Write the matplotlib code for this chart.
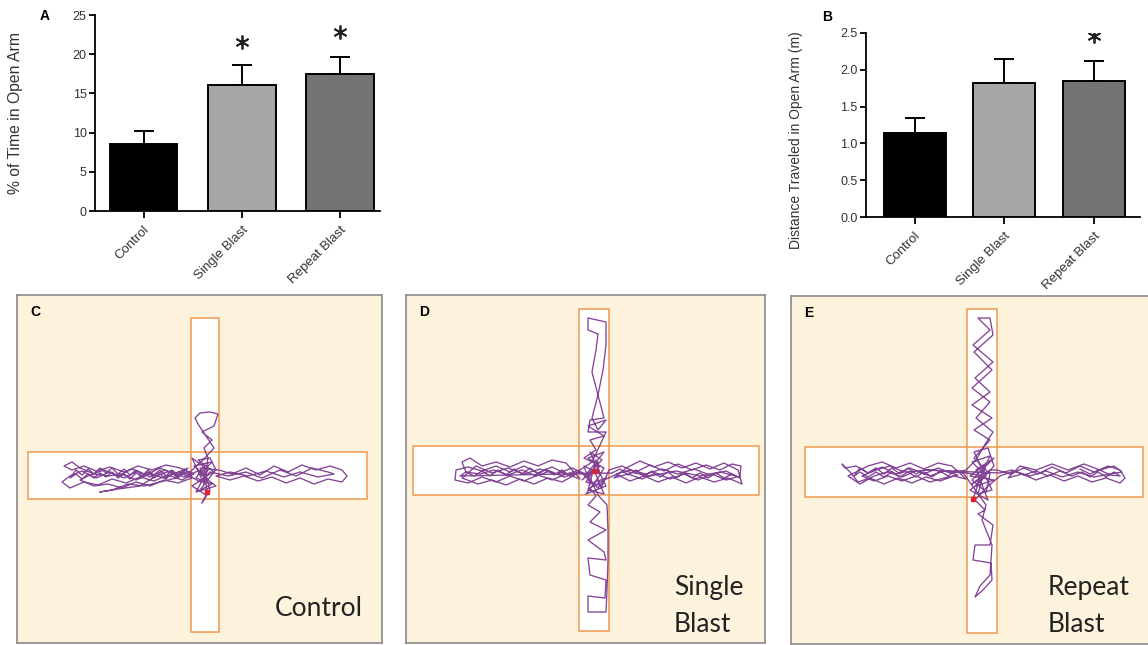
import matplotlib
matplotlib.use("Agg")
import matplotlib.pyplot as plt
from matplotlib.patches import Rectangle

# ---------------- data ----------------
groups = ["Control", "Single Blast", "Repeat Blast"]
time_open_mean = [8.6, 16.1, 17.5]
time_open_err = [1.6, 2.5, 2.2]
time_open_star = [None, 21.6, 22.8]
time_yticks = [0, 5, 10, 15, 20, 25]

dist_open_mean = [1.14, 1.82, 1.84]
dist_open_err = [0.20, 0.32, 0.27]
dist_open_star = [None, None, 2.45]
dist_yticks = [0.0, 0.5, 1.0, 1.5, 2.0, 2.5]

bar_colors = ["#000000", "#a6a6a6", "#737373"]

# maze geometry per panel (image pixel coordinates): (x0, y0, x1, y1)
maze_C_vert = (191, 318, 219, 632)
maze_C_horz = (28, 452, 367, 499)
maze_D_vert = (579, 309, 609, 631)
maze_D_horz = (413, 446, 759, 495)
maze_E_vert = (967, 309, 997, 633)
maze_E_horz = (805, 447, 1143, 497)

# animal tracks (image pixel coordinates)
track_C = [
    (207, 492), (204, 466), (196, 478), (212, 484), (200, 490), (214, 472), (198, 460), (210, 458), (216, 470),
    (192, 486), (206, 495), (202, 503), (210, 490), (206, 476), (194, 466), (212, 462), (200, 474), (216, 486),
    (196, 492), (208, 470), (192, 458), (204, 484),
    (208, 458), (204, 448), (212, 440), (202, 432), (214, 426), (218, 414), (210, 412), (200, 413), (195, 418),
    (198, 424), (206, 436), (214, 448), (203, 460),
    (190, 472), (178, 476), (165, 470), (150, 477), (138, 471), (124, 478), (110, 472), (96, 478), (82, 471),
    (70, 476), (62, 482),
    (70, 488), (84, 482), (98, 485), (112, 479), (126, 483), (140, 477), (154, 481), (168, 475), (182, 480),
    (194, 474),
    (180, 468), (166, 465), (152, 470), (138, 466), (124, 472), (110, 467), (96, 471), (84, 466), (72, 470),
    (64, 466),
    (72, 462), (80, 468), (94, 474), (108, 476), (122, 474), (136, 480), (150, 474), (164, 478), (178, 472),
    (192, 478),
    (178, 483), (164, 480), (150, 486), (136, 482), (122, 488), (108, 484), (94, 486), (80, 480),
    (90, 475), (104, 470), (118, 476), (132, 469), (146, 475), (160, 468), (174, 474), (188, 468),
    (176, 478), (160, 482), (144, 486), (128, 484), (112, 490), (100, 492), (118, 489), (140, 486),
    (156, 476), (170, 471), (184, 477), (198, 471), (208, 480), (200, 468),
    (219, 470), (232, 474), (246, 468), (260, 475), (274, 466), (288, 472), (302, 465), (316, 470), (330, 466),
    (342, 470), (347, 476),
    (342, 482), (328, 479), (314, 484), (300, 478), (286, 483), (272, 477), (258, 481), (244, 476), (230, 480),
    (216, 476),
    (230, 472), (248, 476), (266, 471), (284, 477), (300, 472), (318, 477), (334, 474), (328, 472),
    (312, 468), (296, 476), (280, 470), (262, 478), (246, 472), (228, 476), (210, 472), (200, 482),
    (190, 476), (184, 472), (178, 478), (172, 473), (166, 479), (160, 474), (154, 478), (148, 472), (142, 477),
    (136, 473), (130, 479), (124, 474), (118, 478), (112, 472), (106, 477), (100, 473), (94, 478), (88, 474),
    (82, 479), (76, 474), (70, 478),
    (76, 470), (82, 475), (88, 469), (94, 474), (100, 468), (106, 473), (112, 468), (118, 474), (124, 469),
    (130, 475), (136, 470), (142, 476), (148, 470), (154, 475), (160, 470), (166, 476), (172, 470), (178, 475),
    (184, 469), (190, 474),
]

track_D = [
    (595, 471), (600, 466), (588, 458), (604, 452), (585, 476), (598, 488), (606, 478), (590, 484), (584, 466),
    (600, 474), (596, 460), (588, 490), (604, 494), (594, 470), (582, 480), (602, 460), (590, 452), (606, 486),
    (586, 494), (598, 478), (604, 468), (584, 458),
    (596, 450), (590, 440), (604, 436), (588, 426), (606, 420), (598, 430), (592, 418), (598, 395), (603, 370),
    (606, 345), (606, 322), (588, 318), (588, 330), (598, 334), (596, 350), (592, 372), (598, 395), (604, 418),
    (590, 420), (588, 432), (606, 432), (600, 445), (592, 462),
    (580, 470), (566, 474), (552, 467), (538, 473), (524, 466), (510, 472), (496, 466), (482, 471), (468, 467),
    (456, 470), (455, 480),
    (468, 483), (482, 477), (496, 482), (510, 476), (524, 481), (538, 475), (552, 480), (566, 474), (580, 479),
    (566, 463), (552, 460), (538, 466), (524, 461), (510, 467), (496, 462), (482, 466), (470, 458), (462, 462),
    (466, 472),
    (480, 474), (494, 470), (508, 475), (522, 470), (536, 476), (550, 471), (564, 477), (578, 473),
    (562, 482), (548, 478), (534, 484), (520, 479), (506, 485), (492, 480), (478, 484), (462, 478),
    (476, 466), (492, 473), (508, 468), (524, 474), (540, 469), (556, 474), (572, 468), (590, 476),
    (598, 462), (586, 482), (602, 486),
    (609, 470), (622, 466), (636, 472), (650, 465), (664, 471), (678, 464), (692, 470), (706, 465), (720, 470),
    (732, 464), (741, 466),
    (740, 476), (726, 480), (712, 474), (698, 480), (684, 474), (670, 479), (656, 473), (642, 479), (628, 474),
    (614, 478),
    (626, 468), (640, 461), (654, 467), (668, 462), (682, 468), (696, 463), (710, 469), (724, 463), (738, 470),
    (742, 484), (728, 478), (714, 482), (700, 477), (686, 483), (672, 477), (658, 482), (644, 476), (630, 481),
    (616, 474),
    (630, 470), (646, 474), (662, 469), (678, 474), (694, 469), (710, 475), (726, 471), (736, 476),
    (720, 472), (700, 476), (676, 471), (650, 476), (624, 471), (604, 480), (590, 488),
    (596, 496), (588, 505), (600, 512), (590, 522), (606, 530), (588, 540), (604, 552), (606, 560), (588, 558),
    (590, 575), (606, 580), (605, 598), (588, 596), (588, 612), (606, 612), (607, 590), (608, 560), (608, 530),
    (607, 505), (598, 495), (590, 478),
    (578, 472), (570, 476), (562, 470), (554, 475), (546, 469), (538, 474), (530, 468), (522, 474), (514, 469),
    (506, 475), (498, 470), (490, 476), (482, 471), (474, 476), (466, 472), (460, 476),
    (612, 473), (620, 469), (628, 475), (636, 470), (644, 476), (652, 471), (660, 477), (668, 472), (676, 478),
    (684, 473), (692, 478), (700, 473), (708, 478), (716, 473), (724, 478), (732, 474), (740, 478),
]

track_E = [
    (973, 499), (982, 472), (972, 462), (990, 456), (976, 486), (994, 480), (970, 476), (986, 464), (978, 494),
    (992, 490), (974, 452), (988, 448), (994, 466), (980, 482), (970, 490), (988, 500), (976, 470), (994, 458),
    (972, 480), (986, 492), (990, 474), (974, 458),
    (990, 440), (974, 430), (992, 418), (972, 405), (990, 392), (975, 378), (993, 362), (973, 345), (990, 330),
    (978, 318), (990, 318), (993, 335), (974, 352), (992, 370), (972, 388), (990, 402), (976, 418), (993, 432),
    (984, 446), (976, 460),
    (966, 470), (952, 473), (938, 468), (924, 474), (910, 468), (896, 474), (882, 467), (868, 473), (856, 466),
    (845, 468), (842, 464),
    (850, 472), (858, 482), (870, 478), (884, 484), (898, 478), (912, 483), (926, 477), (940, 481), (954, 476),
    (966, 479),
    (952, 466), (938, 463), (924, 469), (910, 463), (896, 468), (882, 462), (868, 466), (858, 471), (848, 476),
    (860, 484), (874, 476), (888, 472), (902, 477), (916, 471), (930, 476), (944, 471), (958, 475),
    (944, 478), (930, 482), (916, 476), (902, 481), (888, 476), (874, 481), (862, 476), (876, 470), (890, 466),
    (904, 472), (930, 470), (960, 472), (984, 476), (972, 484), (990, 470),
    (997, 470), (1010, 474), (1024, 468), (1038, 474), (1052, 467), (1066, 473), (1080, 466), (1094, 472),
    (1108, 466), (1120, 470), (1125, 478),
    (1120, 483), (1106, 478), (1092, 482), (1078, 476), (1064, 481), (1050, 475), (1036, 480), (1022, 474),
    (1008, 478),
    (1020, 466), (1036, 470), (1052, 464), (1068, 470), (1084, 464), (1100, 470), (1114, 466), (1122, 472),
    (1110, 474), (1094, 477), (1078, 472), (1062, 477), (1046, 471), (1030, 476), (1014, 471), (1000, 476),
    (986, 488), (975, 500), (985, 510), (978, 514), (993, 525), (990, 545), (975, 545), (973, 560), (991, 563),
    (992, 580), (983, 590), (975, 597), (980, 586), (990, 575), (992, 545), (982, 520), (986, 505),
    (964, 474), (956, 470), (948, 476), (940, 471), (932, 477), (924, 472), (916, 477), (908, 472), (900, 477),
    (892, 472), (884, 477), (876, 472), (868, 477), (860, 472), (854, 476),
    (860, 468), (868, 473), (876, 468), (884, 474), (892, 468), (900, 474), (908, 468), (916, 474), (924, 470),
    (1000, 473), (1012, 470), (1024, 475), (1036, 471), (1048, 476), (1060, 471), (1072, 476), (1082, 472),
    (1090, 477), (1098, 472), (1106, 477), (1114, 472), (1120, 476), (1110, 475), (1100, 470), (1090, 474),
    (1080, 469),
]

start_C = (207, 492)
start_D = (595, 471)
start_E = (973, 499)

# ---------------- figure ----------------
W, H = 1148, 645
fig = plt.figure(figsize=(W / 100, H / 100), dpi=100)
fig.patch.set_facecolor("white")

SANS = ["Liberation Sans", "DejaVu Sans"]
TXT = "#333333"


def px_axes(x0, y0, x1, y1):
    return fig.add_axes([x0 / W, 1 - y1 / H, (x1 - x0) / W, (y1 - y0) / H])


def bar_panel(ax, means, errs, stars, yticks, yticklabels, ylabel, ylabel_size, xlim):
    xs = list(range(len(groups)))
    ax.bar(xs, means, width=0.69, color=bar_colors, edgecolor="black", linewidth=1.4, zorder=3)
    ax.errorbar(xs, means, yerr=[[0] * len(errs), errs], fmt="none",
                ecolor="black", elinewidth=1.4, capsize=7, capthick=1.4, zorder=2)
    for x, s in zip(xs, stars):
        if s is not None:
            ax.plot(x, s, marker=(6, 2, 0), ms=10, mew=1.3, color="#222222", zorder=4)
    ax.set_ylim(yticks[0], yticks[-1])
    ax.set_xlim(*xlim)
    ax.set_yticks(yticks)
    ax.set_yticklabels(yticklabels, fontsize=9, color=TXT, family=SANS)
    ax.set_xticks(xs)
    ax.set_xticklabels(groups, rotation=45, ha="right", rotation_mode="anchor",
                       fontsize=9.5, color=TXT, family=SANS)
    ax.spines["top"].set_visible(False)
    ax.spines["right"].set_visible(False)
    for sp in ("left", "bottom"):
        ax.spines[sp].set_linewidth(1.3)
    ax.tick_params(axis="both", direction="out", length=4, width=1.3, pad=2)
    ax.tick_params(axis="x", length=5, pad=4)
    ax.set_ylabel(ylabel, fontsize=ylabel_size, color=TXT, family=SANS)
    ax.patch.set_alpha(0)


# Panel A
axA = px_axes(95, 15, 380, 211)
bar_panel(axA, time_open_mean, time_open_err, time_open_star, time_yticks,
          [str(t) for t in time_yticks], "% of Time in Open Arm", 11.3, (-0.495, 2.41))
axA.yaxis.set_label_coords(-0.252, 0.5)
fig.text(45 / W, 1 - 16 / H, "A", fontsize=10, fontweight="bold", family=SANS, va="center", ha="center")

# Panel B
axB = px_axes(866, 32.7, 1140, 217.3)
bar_panel(axB, dist_open_mean, dist_open_err, dist_open_star, dist_yticks,
          [f"{t:.1f}" for t in dist_yticks], "Distance Traveled in Open Arm (m)", 10, (-0.54, 2.51))
axB.yaxis.set_label_coords(-0.23, 0.42)
fig.text(827 / W, 1 - 17 / H, "B", fontsize=10, fontweight="bold", family=SANS, va="center", ha="center")

# ---------------- maze panels ----------------
BG = "#fdf3dc"
ORANGE = "#ef9a4f"
PURPLE = "#76308a"


def maze_panel(box, vert, horz, track, start, letter, label_lines, label_x, label_ys):
    x0, y0, x1, y1 = box
    ax = px_axes(x0, y0, x1, y1)
    ax.set_xlim(x0, x1)
    ax.set_ylim(y1, y0)
    ax.set_facecolor(BG)
    ax.set_xticks([])
    ax.set_yticks([])
    for sp in ax.spines.values():
        sp.set_color("#8a8a8a")
        sp.set_linewidth(1.2)
    for (a0, b0, a1, b1) in (vert, horz):
        ax.add_patch(Rectangle((a0, b0), a1 - a0, b1 - b0, facecolor="white", edgecolor="none", zorder=1))
    for (a0, b0, a1, b1) in (vert, horz):
        ax.add_patch(Rectangle((a0, b0), a1 - a0, b1 - b0, facecolor="none", edgecolor=ORANGE,
                               linewidth=1.1, zorder=2))
    xs = [p[0] for p in track]
    ys = [p[1] for p in track]
    ax.plot(xs, ys, color=PURPLE, linewidth=0.95, alpha=0.9, zorder=3, solid_joinstyle="round")
    ax.plot(start[0], start[1], "s", color="#e0202a", ms=2.5, zorder=4)
    ax.text(x0 + 18, y0 + 17, letter, fontsize=10, fontweight="bold", family=SANS,
            va="center", ha="center", zorder=5)
    for line, ly in zip(label_lines, label_ys):
        ax.text(label_x, ly, line, fontsize=19, family=["Lato", "DejaVu Sans"], color="#222222",
                va="center", ha="left" if len(label_lines) > 1 else "right", zorder=5)
    return ax


maze_panel((17, 295, 382, 643), maze_C_vert, maze_C_horz, track_C, start_C, "C",
           ["Control"], 363, [609])
maze_panel((406, 295, 765, 643), maze_D_vert, maze_D_horz, track_D, start_D, "D",
           ["Single", "Blast"], 674, [587, 624])
maze_panel((791, 296, 1151, 644), maze_E_vert, maze_E_horz, track_E, start_E, "E",
           ["Repeat", "Blast"], 1048, [587, 624])

fig.savefig("out.png", dpi=100, facecolor="white")
